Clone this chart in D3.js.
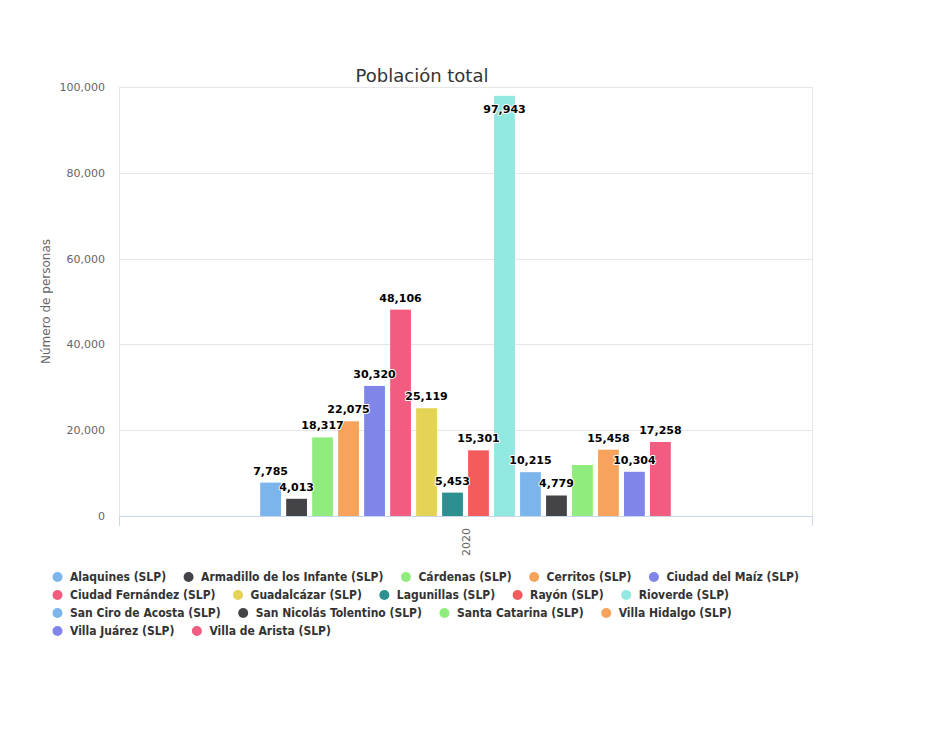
<!DOCTYPE html>
<meta charset="utf-8">
<script src="https://cdn.jsdelivr.net/npm/d3@7"></script>
<style>
body { margin: 0; background: #fff; }
text { font-family: "DejaVu Sans", sans-serif; }
</style>
<body>
<script>

// Data
var categories = ["2020"];
var seriesNames = [
  "Alaquines (SLP)", "Armadillo de los Infante (SLP)", "Cárdenas (SLP)", "Cerritos (SLP)",
  "Ciudad del Maíz (SLP)", "Ciudad Fernández (SLP)", "Guadalcázar (SLP)", "Lagunillas (SLP)",
  "Rayón (SLP)", "Rioverde (SLP)", "San Ciro de Acosta (SLP)", "San Nicolás Tolentino (SLP)",
  "Santa Catarina (SLP)", "Villa Hidalgo (SLP)", "Villa Juárez (SLP)", "Villa de Arista (SLP)"
];
var values = [7785, 4013, 18317, 22075, 30320, 48106, 25119, 5453, 15301, 97943, 10215, 4779, 11888, 15458, 10304, 17258];
var yTicks = [0, 20000, 40000, 60000, 80000, 100000];
var palette = ["#7cb5ec", "#434348", "#90ed7d", "#f7a35c", "#8085e9", "#f15c80", "#e4d354", "#2b908f", "#f45b5b", "#91e8e1"];

var width = 939, height = 742;
var plot = {left: 119, right: 812, top: 87, bottom: 516};

var svg = d3.select("body").append("svg")
    .attr("width", width)
    .attr("height", height);

var color = d3.scaleOrdinal().domain(seriesNames).range(palette);

var y = d3.scaleLinear().domain([0, 100000]).range([plot.bottom, plot.top]);

var x0 = d3.scaleBand().domain(categories)
    .range([plot.left, plot.right]).paddingInner(0).paddingOuter(0);

// group padding 0.2 on each side of the category
var groupPad = x0.bandwidth() * 0.2;
var x1 = d3.scaleBand().domain(seriesNames)
    .range([groupPad, x0.bandwidth() - groupPad])
    .paddingInner(0.2).paddingOuter(0.1);

// Grid lines
svg.append("g").selectAll("line")
    .data(yTicks)
    .enter().append("line")
    .attr("x1", plot.left).attr("x2", plot.right)
    .attr("y1", function(d) { return Math.round(y(d)) + 0.5; })
    .attr("y2", function(d) { return Math.round(y(d)) + 0.5; })
    .attr("stroke", "#e6e6e6");

// vertical grid at category edges
svg.append("g").selectAll("line")
    .data([plot.left, plot.right])
    .enter().append("line")
    .attr("x1", function(d) { return d + 0.5; }).attr("x2", function(d) { return d + 0.5; })
    .attr("y1", plot.top).attr("y2", plot.bottom)
    .attr("stroke", "#e6e6e6");

// Y tick labels
svg.append("g").selectAll("text")
    .data(yTicks)
    .enter().append("text")
    .attr("x", 105)
    .attr("y", function(d) { return y(d) + 4; })
    .attr("text-anchor", "end")
    .attr("font-size", "11px")
    .attr("fill", "#666666")
    .text(d3.format(","));

// Y axis title
svg.append("text")
    .attr("transform", "translate(50," + ((plot.top + plot.bottom) / 2) + ") rotate(-90)")
    .attr("text-anchor", "middle")
    .attr("font-size", "12px")
    .attr("fill", "#666666")
    .text("Número de personas");

// X axis line + ticks
svg.append("line")
    .attr("x1", plot.left).attr("x2", plot.right)
    .attr("y1", plot.bottom + 0.5).attr("y2", plot.bottom + 0.5)
    .attr("stroke", "#ccd6eb");
svg.append("g").selectAll("line")
    .data([plot.left, plot.right])
    .enter().append("line")
    .attr("x1", function(d) { return d + 0.5; }).attr("x2", function(d) { return d + 0.5; })
    .attr("y1", plot.bottom).attr("y2", plot.bottom + 10)
    .attr("stroke", "#ccd6eb");

svg.append("g").selectAll("text")
    .data(categories)
    .enter().append("text")
    .attr("transform", function(d) {
      return "translate(" + (x0(d) + x0.bandwidth() / 2 + 4) + "," + (plot.bottom + 12) + ") rotate(-90)";
    })
    .attr("text-anchor", "end")
    .attr("font-size", "11px")
    .attr("fill", "#666666")
    .text(String);

// Bars
var bars = values.map(function(v, i) {
  return {name: seriesNames[i], value: v, cat: categories[0]};
});

svg.append("g").selectAll("rect")
    .data(bars)
    .enter().append("rect")
    .attr("x", function(d) { return x0(d.cat) + x1(d.name); })
    .attr("y", function(d) { return y(d.value); })
    .attr("width", x1.bandwidth())
    .attr("height", function(d) { return plot.bottom - y(d.value); })
    .attr("fill", function(d) { return color(d.name); });

// Data labels (hide ones that collide with a bigger label, like Highcharts does)
bars.forEach(function(d) {
  var top = y(d.value);
  d.lx = x0(d.cat) + x1(d.name) + x1.bandwidth() / 2;
  d.ly = top - 8;
  if (d.ly - 12 < plot.top) d.ly = top + 17;
});
var byValue = bars.slice().sort(function(a, b) { return b.value - a.value; });
var shown = [];
byValue.forEach(function(d) {
  var hit = shown.some(function(o) {
    return Math.abs(o.lx - d.lx) < 38 && Math.abs(o.ly - d.ly) < 15.8;
  });
  d.show = !hit;
  if (!hit) shown.push(d);
});

svg.append("g").selectAll("text")
    .data(bars.filter(function(d) { return d.show; }))
    .enter().append("text")
    .attr("x", function(d) { return d.lx; })
    .attr("y", function(d) { return d.ly; })
    .attr("text-anchor", "middle")
    .attr("font-size", "11px")
    .attr("font-weight", "bold")
    .attr("fill", "#000")
    .attr("stroke", "#fff")
    .attr("stroke-width", 2)
    .attr("paint-order", "stroke")
    .attr("stroke-linejoin", "round")
    .text(function(d) { return d3.format(",")(d.value); });

// Title
svg.append("text")
    .attr("x", 422)
    .attr("y", 82)
    .attr("text-anchor", "middle")
    .attr("font-size", "18px")
    .attr("fill", "#333333")
    .text("Población total");

// Legend, flowing items in rows
var legend = svg.append("g").attr("class", "legend");
var lx = 51, ly = 577, maxRight = 840;
seriesNames.forEach(function(name) {
  var item = legend.append("g");
  var t = item.append("text")
      .attr("x", 19)
      .attr("y", 4)
      .attr("font-size", "12px")
      .attr("font-weight", "bold")
      .style("font-family", "'DejaVu Sans Condensed', 'DejaVu Sans', sans-serif")
      .style("font-stretch", "condensed")
      .attr("fill", "#333333")
      .text(name);
  var w = 19 + t.node().getComputedTextLength();
  if (lx + w > maxRight) { lx = 51; ly += 18; }
  item.append("circle")
      .attr("cx", 6.5)
      .attr("cy", 0)
      .attr("r", 5)
      .attr("fill", color(name));
  item.attr("transform", "translate(" + lx + "," + ly + ")");
  lx += w + 16;
});

</script>
</body>
</html>
